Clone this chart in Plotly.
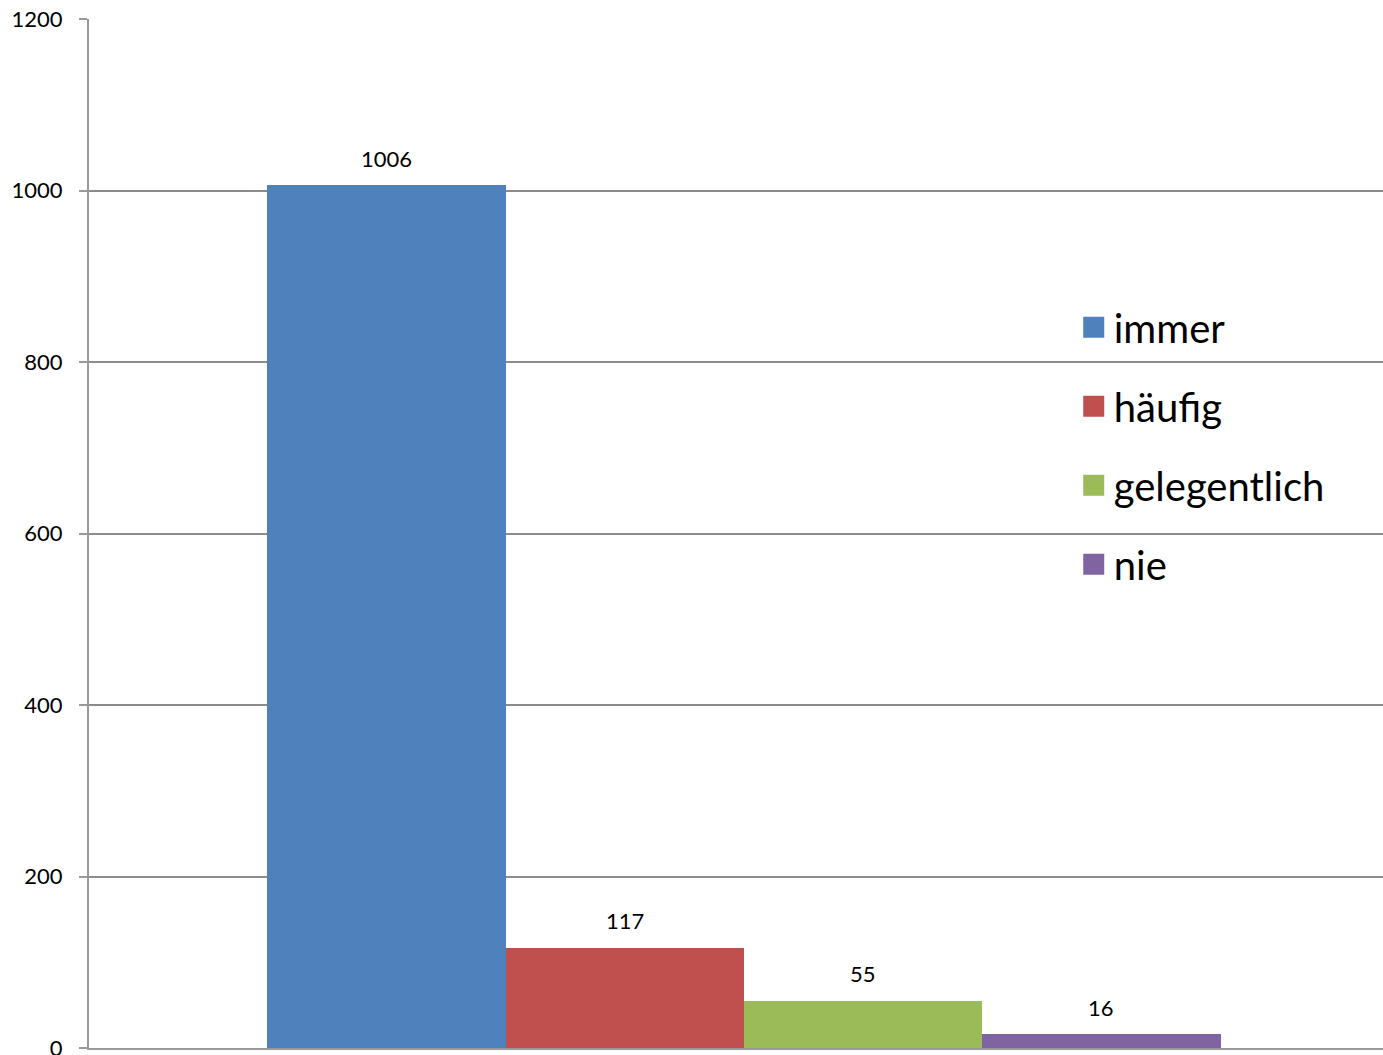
import plotly.graph_objects as go

categories = ["immer", "häufig", "gelegentlich", "nie"]
values = [1006, 117, 55, 16]
colors = ["#4F81BD", "#C0504D", "#9BBB59", "#8064A2"]
y_ticks = [0, 200, 400, 600, 800, 1000, 1200]

FONT = "Lato"
fig = go.Figure()
for c, v, col in zip(categories, values, colors):
    fig.add_trace(go.Bar(
        x=[c], y=[v], name=c, width=1,
        marker=dict(color=col, line=dict(width=0)),
        showlegend=False, legendgroup=c,
    ))
    fig.add_annotation(x=c, y=v, text=str(v), showarrow=False,
                       yshift=27, yanchor="middle",
                       font=dict(family=FONT, size=22, color="black"))
# legend entries (square swatches)
for c, col in zip(categories, colors):
    fig.add_trace(go.Scatter(
        x=[None], y=[None], mode="markers", name=c, legendgroup=c,
        marker=dict(symbol="square", size=16, color=col,
                    line=dict(color=col, width=5)),
        showlegend=True, hoverinfo="skip",
    ))

fig.update_layout(
    width=1383, height=1055,
    margin=dict(l=89, r=0, t=19, b=7, autoexpand=False),
    paper_bgcolor="white", plot_bgcolor="white",
    barmode="overlay", bargap=0,
    font=dict(family=FONT, color="black"),
    legend=dict(x=0.761, y=0.732, xanchor="left", yanchor="top",
                bgcolor="rgba(0,0,0,0)", font=dict(size=40, family=FONT),
                tracegroupgap=24, traceorder="grouped"),
    xaxis=dict(type="category", categoryorder="array", categoryarray=categories,
               range=[-1.249, 4.182], showticklabels=False, ticks="",
               showgrid=False, showline=True, linecolor="#9a9a9a", linewidth=2,
               zeroline=False, fixedrange=True, automargin=False),
    yaxis=dict(range=[0, 1200], tickvals=y_ticks, ticks="outside", ticklen=8,
               tickcolor="#9a9a9a", tickwidth=2, showline=True, linecolor="#9a9a9a",
               linewidth=2, showgrid=True, gridcolor="#8c8c8c", gridwidth=1.5,
               zeroline=False, tickfont=dict(size=22, family=FONT, color="black"),
               ticklabelstandoff=12, ticklabeloverflow="allow", automargin=False),
)
fig.write_html("out.html", config={"displayModeBar": False},
               post_script="document.body.style.margin='0';")
